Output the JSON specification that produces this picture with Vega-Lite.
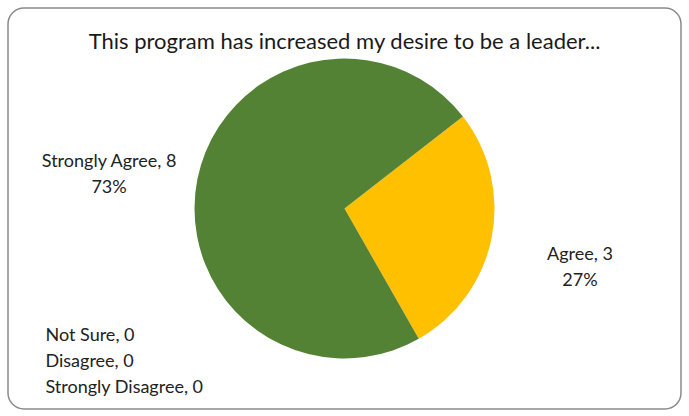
{
  "$schema": "https://vega.github.io/schema/vega-lite/v6.json",
  "width": 689,
  "height": 416,
  "autosize": {"type": "fit", "contains": "padding"},
  "padding": {"left": 8, "top": 8, "right": 8, "bottom": 7},
  "background": "white",
  "view": {"stroke": "#8a8a8a", "strokeWidth": 1.5, "cornerRadius": 16, "fill": "white"},
  "config": {
    "font": "Lato"
  },
  "title": {
    "text": "This program has increased my desire to be a leader...",
    "font": "Lato",
    "fontSize": 22,
    "fontWeight": "normal",
    "color": "#1a1a1a",
    "offset": -46,
    "anchor": "middle"
  },
  "data": {
    "values": [
      {"category": "Agree", "value": 3},
      {"category": "Not Sure", "value": 0},
      {"category": "Disagree", "value": 0},
      {"category": "Strongly Disagree", "value": 0},
      {"category": "Strongly Agree", "value": 8}
    ]
  },
  "transform": [
    {"joinaggregate": [{"op": "sum", "field": "value", "as": "total"}]},
    {"calculate": "datum.category + ', ' + datum.value", "as": "label1"},
    {"calculate": "format(datum.value / datum.total, '.0%')", "as": "label2"}
  ],
  "layer": [
    {
      "mark": {"type": "arc", "outerRadius": 150, "strokeWidth": 0},
      "encoding": {
        "theta": {"field": "value", "type": "quantitative", "stack": true, "scale": {"range": [0.91, 7.193]}},
        "color": {
          "field": "category",
          "type": "nominal",
          "sort": null,
          "scale": {
            "domain": ["Agree", "Not Sure", "Disagree", "Strongly Disagree", "Strongly Agree"],
            "range": ["#FFC000", "#A5A5A5", "#ED7D31", "#4472C4", "#548235"]
          },
          "legend": null
        }
      }
    },
    {
      "transform": [
        {"filter": "datum.value > 0"},
        {"calculate": "[datum.label1, datum.label2]", "as": "lines"}
      ],
      "mark": {"type": "text", "radius": 240, "fontSize": 18, "color": "#222222", "lineHeight": 26, "align": "center", "baseline": "middle"},
      "encoding": {
        "theta": {"field": "value", "type": "quantitative", "stack": true},
        "text": {"field": "lines"}
      }
    },
    {
      "transform": [
        {"filter": "datum.value == 0"},
        {"aggregate": [{"op": "values", "as": "rows"}]},
        {"calculate": "pluck(datum.rows, 'label1')", "as": "lines"}
      ],
      "mark": {"type": "text", "fontSize": 18, "color": "#222222", "lineHeight": 26, "align": "left", "baseline": "middle", "dx": -299, "dy": 127},
      "encoding": {
        "text": {"field": "lines"}
      }
    }
  ]
}
